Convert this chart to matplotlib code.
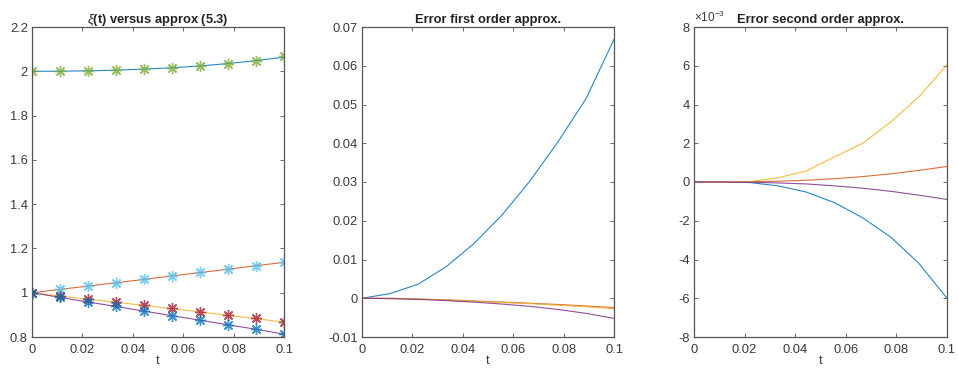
import matplotlib
matplotlib.use('Agg')
import matplotlib.pyplot as plt
import matplotlib.ticker as mticker
import numpy as np

plt.rcParams['font.family'] = ['Liberation Sans', 'DejaVu Sans']
plt.rcParams['axes.unicode_minus'] = False
plt.rcParams['mathtext.fontset'] = 'custom'
plt.rcParams['mathtext.rm'] = 'Liberation Sans'
plt.rcParams['mathtext.it'] = 'Liberation Sans:italic'

# time grid, 10 samples on [0, 0.1]
t = [0, 0.0111, 0.0222, 0.0333, 0.0444, 0.0556, 0.0667, 0.0778, 0.0889, 0.1]

# exact solutions xi(t)
xi1 = [2.0, 2.0005, 2.002, 2.005, 2.010, 2.016, 2.024, 2.035, 2.048, 2.064]
xi2 = [1.0, 1.015, 1.030, 1.045, 1.060, 1.076, 1.091, 1.106, 1.122, 1.137]
xi3 = [1.0, 0.985, 0.971, 0.957, 0.943, 0.928, 0.913, 0.898, 0.883, 0.867]
xi4 = [1.0, 0.979, 0.958, 0.938, 0.917, 0.896, 0.876, 0.855, 0.835, 0.813]

# approximation (5.3)
ap1 = [2.0, 2.0, 2.002, 2.005, 2.010, 2.016, 2.024, 2.034, 2.048, 2.068]
ap2 = [1.0, 1.016, 1.031, 1.046, 1.061, 1.077, 1.092, 1.107, 1.122, 1.137]
ap3 = [1.0, 0.985, 0.972, 0.957, 0.943, 0.929, 0.913, 0.899, 0.884, 0.867]
ap4 = [1.0, 0.979, 0.958, 0.938, 0.917, 0.896, 0.876, 0.856, 0.835, 0.814]

# first order errors
e1_1 = [0, 0.0012, 0.0036, 0.0081, 0.0141, 0.0215, 0.0303, 0.0404, 0.0515, 0.0668]
e1_2 = [0, -0.0000, -0.0002, -0.0004, -0.0007, -0.0010, -0.0013, -0.0016, -0.0020, -0.0024]
e1_3 = [0, -0.0001, -0.0002, -0.0005, -0.0008, -0.0011, -0.0014, -0.0018, -0.0022, -0.0027]
e1_4 = [0, -0.0001, -0.0003, -0.0006, -0.0010, -0.0015, -0.0021, -0.0029, -0.0039, -0.0052]

# second order errors (units of 1e-3)
e2_1 = [0, 0.0, -0.03, -0.20, -0.52, -1.07, -1.85, -2.85, -4.20, -6.00]
e2_2 = [0, 0.0, 0.01, 0.04, 0.09, 0.17, 0.28, 0.42, 0.60, 0.80]
e2_3 = [0, 0.0, 0.03, 0.22, 0.57, 1.30, 2.00, 3.10, 4.40, 6.05]
e2_4 = [0, 0.0, -0.01, -0.05, -0.10, -0.20, -0.32, -0.48, -0.68, -0.90]

cols = ['#0072BD', '#D95319', '#EDB120', '#7E2F8E', '#77AC30', '#4DBEEE', '#A2142F']
axcol = '#555555'
txtcol = '#3a3a3a'

fig = plt.figure(figsize=(9.58, 3.73), dpi=100)
W, H = 958, 373
boxes = [(32, 284), (362, 614), (694, 947)]
axes = [fig.add_axes([l / W, 1 - 337 / H, (r - l) / W, 310 / H]) for l, r in boxes]

def style(ax):
    ax.set_xlim(0, 0.1)
    ax.set_xticks(np.arange(0, 0.1001, 0.02))
    ax.xaxis.set_major_formatter(mticker.FormatStrFormatter('%g'))
    ax.tick_params(direction='in', top=True, right=True, length=3, width=0.6,
                   colors=axcol, labelcolor=txtcol, labelsize=9.3, pad=3)
    ax.tick_params(axis='x', pad=5)
    for s in ax.spines.values():
        s.set_color(axcol)
        s.set_linewidth(0.9)
    ax.set_xlabel('t', fontsize=9, color=txtcol, labelpad=-1)

lw = 0.8
ax = axes[0]
for y, c in zip([xi1, xi2, xi3, xi4], cols[:4]):
    ax.plot(t, y, color=c, lw=lw, alpha=0.85)
for y, c in zip([ap1, ap2, ap3, ap4], [cols[4], cols[5], cols[6], cols[0]]):
    ax.plot(t, y, ls='none', marker=(8, 2, 0), color=c, ms=8, mew=1.0, alpha=0.75)
ax.set_ylim(0.8, 2.2)
ax.set_yticks(np.arange(0.8, 2.201, 0.2))
ax.yaxis.set_major_formatter(mticker.FormatStrFormatter('%g'))
ax.set_title(r'$\xi$(t) versus approx (5.3)', fontsize=9.3, fontweight='bold', pad=3,
             color='#222222')
style(ax)

ax = axes[1]
for y, c in zip([e1_1, e1_2, e1_3, e1_4], cols[:4]):
    ax.plot(t, y, color=c, lw=lw, alpha=0.85)
ax.set_ylim(-0.01, 0.07)
ax.set_yticks(np.arange(-0.01, 0.0701, 0.01))
ax.yaxis.set_major_formatter(mticker.FuncFormatter(lambda v, p: '%g' % round(v, 4)))
ax.set_title('Error first order approx.', fontsize=9.3, fontweight='bold', pad=3,
             color='#222222')
style(ax)

ax = axes[2]
for y, c in zip([e2_1, e2_2, e2_3, e2_4], cols[:4]):
    ax.plot(t, np.array(y) * 1e-3, color=c, lw=lw, alpha=0.85)
ax.set_ylim(-8e-3, 8e-3)
ax.set_yticks(np.arange(-8, 8.1, 2) * 1e-3)
ax.yaxis.set_major_formatter(mticker.FuncFormatter(lambda v, p: '%g' % round(v * 1e3, 3)))
ax.text(0.0, 1.005, r'$\times10^{-3}$', transform=ax.transAxes, fontsize=8.5,
        color=txtcol, ha='left', va='bottom')
ax.set_title('Error second order approx.', fontsize=9.3, fontweight='bold', pad=3,
             color='#222222')
style(ax)

fig.savefig('out.png', dpi=100)
